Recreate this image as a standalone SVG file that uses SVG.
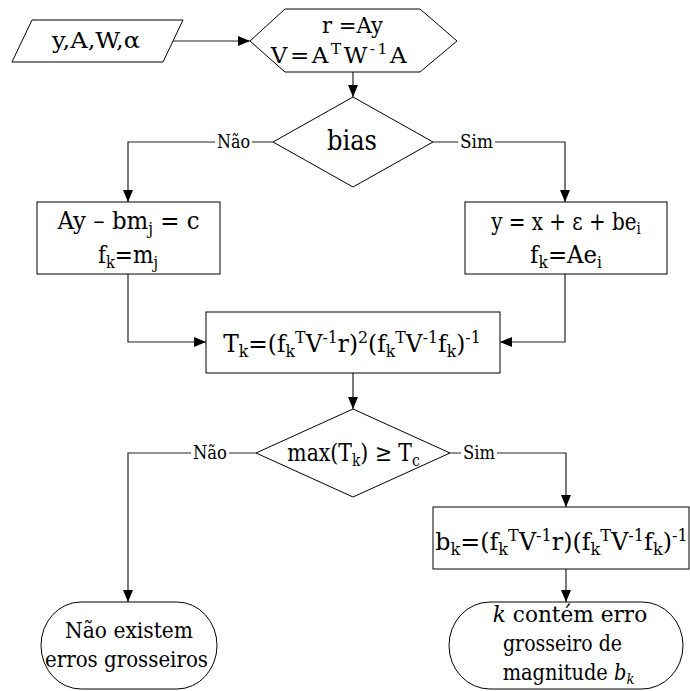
<svg xmlns="http://www.w3.org/2000/svg" width="690" height="691" viewBox="0 0 690 691" font-family="DejaVu Serif, serif">
<defs>
<marker id="arr" viewBox="0 0 12 10" refX="12" refY="5" markerWidth="12" markerHeight="10" markerUnits="userSpaceOnUse" orient="auto">
<path d="M0,0 L12,5 L0,10 Z" fill="#000"/>
</marker>
<style>
text{font-family:'DejaVu Serif',serif;fill:#000}
.m{text-anchor:middle}
.shape{fill:#fff;stroke:#000;stroke-width:1}
.conn{fill:none;stroke:#222;stroke-width:1.2;marker-end:url(#arr)}
.lbl{font-size:18px}
.sb{font-size:68%;baseline-shift:-0.3em}
.sp{font-size:68%;baseline-shift:0.55em}
.f{font-size:25px}
.t{font-size:23px}
</style>
</defs>
<rect width="690" height="691" fill="#fff"/>
<g id="connectors">
<path class="conn" d="M173,41 H250"/>
<path class="conn" d="M353,72 V97"/>
<path class="conn" d="M273,142 H128 V202"/>
<path class="conn" d="M433,142 H565 V202"/>
<path class="conn" d="M128,274 V342 H206"/>
<path class="conn" d="M565,274 V342 H500"/>
<path class="conn" d="M353,373 V409"/>
<path class="conn" d="M256,453 H128 V602"/>
<path class="conn" d="M450,453 H566 V507"/>
<path class="conn" d="M566,569 V602"/>
<rect x="215" y="131" width="37" height="22" fill="#fff"/>
<text class="lbl" x="217" y="148" textLength="33" lengthAdjust="spacingAndGlyphs">Não</text>
<rect x="458" y="131" width="37" height="22" fill="#fff"/>
<text class="lbl" x="460" y="148" textLength="33" lengthAdjust="spacingAndGlyphs">Sim</text>
<rect x="191" y="442" width="38" height="22" fill="#fff"/>
<text class="lbl" x="193" y="459" textLength="34" lengthAdjust="spacingAndGlyphs">Não</text>
<rect x="461" y="442" width="36" height="22" fill="#fff"/>
<text class="lbl" x="463" y="459" textLength="32" lengthAdjust="spacingAndGlyphs">Sim</text>
</g>
<g id="input">
<polygon class="shape" points="32,20 183,20 163,62 12,62"/>
<text x="52" y="48" style="font-size:22px" textLength="88" lengthAdjust="spacingAndGlyphs">y,A,W,α</text>
</g>
<g id="prep">
<polygon class="shape" points="250,41 285,9 420,9 457,41 420,72 285,72"/>
<text x="322" y="33" style="font-size:23px" textLength="61" lengthAdjust="spacingAndGlyphs">r =Ay</text>
<text class="m" transform="translate(340,63)" style="font-size:23px;letter-spacing:2.5px">V=A<tspan class="sp">T</tspan>W<tspan class="sp">-1</tspan>A</text>
</g>
<g id="bias">
<polygon class="shape" points="353,97 433,142 353,187 273,142"/>
<text x="327" y="150" style="font-size:27px" textLength="50" lengthAdjust="spacingAndGlyphs">bias</text>
</g>
<g id="left-box">
<rect class="shape" x="37" y="202" width="183" height="72"/>
<text class="f m" transform="translate(128.5,229) scale(0.915,1)">Ay – bm<tspan class="sb">j</tspan> = c</text>
<text class="f m" transform="translate(128,263) scale(0.865,1)">f<tspan class="sb">k</tspan>=m<tspan class="sb">j</tspan></text>
</g>
<g id="right-box">
<rect class="shape" x="465" y="202" width="202" height="72"/>
<text class="m" style="font-size:24px" transform="translate(566,230) scale(0.83,1)">y = x + ε + be<tspan class="sb">i</tspan></text>
<text class="f m" transform="translate(566,263) scale(0.914,1)">f<tspan class="sb">k</tspan>=Ae<tspan class="sb">i</tspan></text>
</g>
<g id="tk">
<rect class="shape" x="206" y="312" width="294" height="61"/>
<text class="f m" transform="translate(352,352) scale(0.93,1)">T<tspan class="sb">k</tspan>=(f<tspan class="sb">k</tspan><tspan class="sp">T</tspan>V<tspan class="sp">-1</tspan>r)<tspan class="sp">2</tspan>(f<tspan class="sb">k</tspan><tspan class="sp">T</tspan>V<tspan class="sp">-1</tspan>f<tspan class="sb">k</tspan>)<tspan class="sp">-1</tspan></text>
</g>
<g id="max">
<polygon class="shape" points="353,409 450,453 353,497 256,453"/>
<text class="m" style="font-size:24px" transform="translate(353.5,461) scale(0.85,1)">max(T<tspan class="sb">k</tspan>) ≥ T<tspan class="sb">c</tspan></text>
</g>
<g id="bk">
<rect class="shape" x="433" y="507" width="256" height="62"/>
<text class="f m" transform="translate(561.5,550) scale(0.952,1)">b<tspan class="sb">k</tspan>=(f<tspan class="sb">k</tspan><tspan class="sp">T</tspan>V<tspan class="sp">-1</tspan>r)(f<tspan class="sb">k</tspan><tspan class="sp">T</tspan>V<tspan class="sp">-1</tspan>f<tspan class="sb">k</tspan>)<tspan class="sp">-1</tspan></text>
</g>
<g id="end-no">
<rect class="shape" x="41" y="602" width="176" height="87" rx="40" ry="43.5"/>
<text class="t" x="65" y="638" textLength="128" lengthAdjust="spacingAndGlyphs">Não existem</text>
<text class="t" x="45" y="667" textLength="163" lengthAdjust="spacingAndGlyphs">erros grosseiros</text>
</g>
<g id="end-yes">
<rect class="shape" x="449" y="602" width="234" height="87" rx="41" ry="43.5"/>
<text class="t m" transform="translate(570,622) scale(0.94,1)"><tspan font-style="italic">k</tspan> contém erro</text>
<text class="t" x="503" y="651" textLength="119" lengthAdjust="spacingAndGlyphs">grosseiro de</text>
<text class="t m" transform="translate(568.5,680) scale(0.843,1)">magnitude <tspan font-style="italic">b<tspan class="sb">k</tspan></tspan></text>
</g>
</svg>
